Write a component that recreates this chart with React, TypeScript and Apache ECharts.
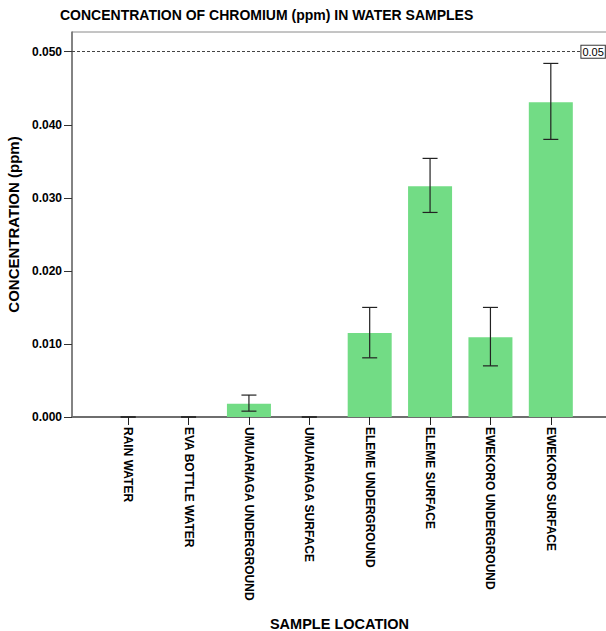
import React, { useEffect, useRef } from "react";
import * as echarts from "echarts";

const categories = [
  "RAIN WATER",
  "EVA BOTTLE WATER",
  "UMUARIAGA UNDERGROUND",
  "UMUARIAGA SURFACE",
  "ELEME UNDERGROUND",
  "ELEME SURFACE",
  "EWEKORO UNDERGROUND",
  "EWEKORO SURFACE",
];
const means = [0, 0, 0.0018, 0, 0.0115, 0.0316, 0.0109, 0.0431];
const lowers = [0, 0, 0.0008, 0, 0.0081, 0.028, 0.007, 0.038];
const uppers = [0, 0, 0.003, 0, 0.015, 0.0354, 0.015, 0.0484];
const yTickValues = [0, 0.01, 0.02, 0.03, 0.04, 0.05];
const yMax = 0.0527;
const refValue = 0.05;
const refLabel = "0.05";
const refEnd = 0.945;

const FONT = "'Liberation Sans', Arial, sans-serif";

export default function App() {
  const ref = useRef<HTMLDivElement>(null);
  useEffect(() => {
    if (!ref.current) return;
    const chart = echarts.init(ref.current, null, { renderer: "svg" });
    const errStyle = { stroke: "#222", lineWidth: 1.2 };
    chart.setOption({
      animation: false,
      backgroundColor: "#ffffff",
      textStyle: { fontFamily: FONT },
      title: {
        text: "CONCENTRATION OF CHROMIUM (ppm) IN WATER SAMPLES",
        left: 55,
        top: 3,
        textStyle: { fontFamily: FONT, fontSize: 14, fontWeight: "bold", color: "#000" },
      },
      grid: [
        { left: 72, top: 32, width: 538, height: 385, show: true, borderColor: "#8a8a8a", borderWidth: 1, backgroundColor: "transparent", outerBoundsMode: "none", containLabel: false },
        { left: 98, top: 32, width: 483, height: 385, outerBoundsMode: "none", containLabel: false },
      ],
      xAxis: [
        {
          gridIndex: 0,
          type: "value",
          min: 0,
          max: 1,
          axisLine: { show: true, lineStyle: { color: "#6e6e6e", width: 2 } },
          axisTick: { show: false },
          axisLabel: { show: false },
          splitLine: { show: false },
        },
        {
          gridIndex: 1,
          type: "category",
          data: categories,
          boundaryGap: true,
          name: "SAMPLE LOCATION",
          nameLocation: "middle",
          nameGap: 199,
          nameTextStyle: { fontFamily: FONT, fontSize: 14.5, fontWeight: "bold", color: "#000" },
          axisLine: { show: false },
          axisTick: { show: true, alignWithLabel: true, length: 8, lineStyle: { color: "#222", width: 1 } },
          axisLabel: {
            rotate: -90,
            interval: 0,
            margin: 10,
            fontFamily: FONT,
            fontSize: 12,
            fontWeight: "bold",
            color: "#000",
          },
          splitLine: { show: false },
        },
      ],
      yAxis: [
        {
          gridIndex: 0,
          type: "value",
          min: 0,
          max: yMax,
          name: "CONCENTRATION (ppm)",
          nameLocation: "middle",
          nameGap: 50,
          nameTextStyle: { fontFamily: FONT, fontSize: 15, fontWeight: "bold", color: "#000" },
          axisLine: { show: true, lineStyle: { color: "#6e6e6e", width: 1.5 } },
          axisTick: { show: true, length: 8, customValues: yTickValues, lineStyle: { color: "#333" } },
          axisLabel: {
            customValues: yTickValues,
            margin: 10,
            fontFamily: FONT,
            fontSize: 12,
            fontWeight: "bold",
            color: "#000",
            formatter: (v: number) => v.toFixed(3),
          },
          splitLine: { show: false },
        },
        {
          gridIndex: 1,
          type: "value",
          min: 0,
          max: yMax,
          show: false,
        },
      ],
      series: [
        {
          type: "line",
          xAxisIndex: 0,
          yAxisIndex: 0,
          data: [],
          silent: true,
          markLine: {
            silent: true,
            symbol: "none",
            lineStyle: { color: "#444", type: [3, 2], width: 1 },
            label: {
              show: true,
              position: "end",
              distance: 1,
              formatter: refLabel,
              fontFamily: FONT,
              fontSize: 11,
              color: "#000",
              backgroundColor: "#fff",
              borderColor: "#333",
              borderWidth: 1,
              padding: [1, 1, 0, 1],
            },
            data: [
              [
                { coord: [0, refValue] },
                { coord: [refEnd, refValue] },
              ],
            ],
          },
        },
        {
          type: "bar",
          xAxisIndex: 1,
          yAxisIndex: 1,
          data: means,
          barWidth: 44,
          itemStyle: { color: "#72dc85", borderWidth: 0 },
        },
        {
          type: "custom",
          xAxisIndex: 1,
          yAxisIndex: 1,
          data: categories.map((_, i) => [i, lowers[i], uppers[i]]),
          z: 5,
          renderItem: (params: any, api: any) => {
            const x = api.value(0);
            const lo = api.coord([x, api.value(1)]);
            const hi = api.coord([x, api.value(2)]);
            const hw = 7.5;
            return {
              type: "group",
              children: [
                { type: "line", shape: { x1: hi[0], y1: hi[1], x2: lo[0], y2: lo[1] }, style: errStyle },
                { type: "line", shape: { x1: hi[0] - hw, y1: hi[1], x2: hi[0] + hw, y2: hi[1] }, style: errStyle },
                { type: "line", shape: { x1: lo[0] - hw, y1: lo[1], x2: lo[0] + hw, y2: lo[1] }, style: errStyle },
              ],
            };
          },
        },
      ],
    });
    return () => chart.dispose();
  }, []);
  return (
    <div
      ref={ref}
      style={{ position: "fixed", left: 0, top: 0, width: 606, height: 631 }}
    />
  );
}
